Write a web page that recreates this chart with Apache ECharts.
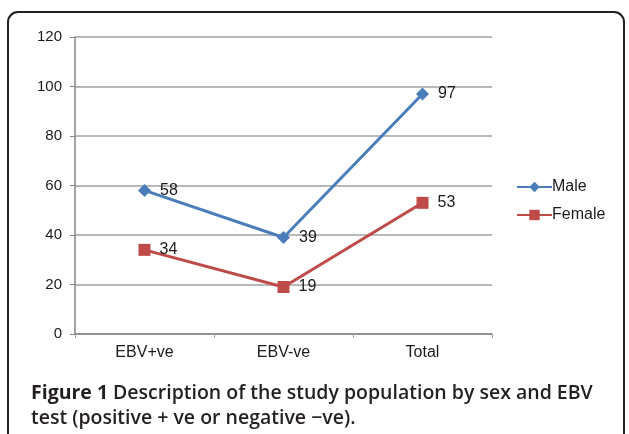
<!DOCTYPE html>
<html>
<head>
<meta charset="utf-8">
<script src="https://cdn.jsdelivr.net/npm/echarts@6/dist/echarts.min.js"></script>
<style>
  html, body { margin: 0; padding: 0; background: #fff; }
  #chart { width: 629px; height: 434px; }
</style>
</head>
<body>
<div id="chart"></div>
<script>
const categories = ['EBV+ve', 'EBV-ve', 'Total']
const male = [58, 39, 97]
const female = [34, 19, 53]
const yTicks = { min: 0, max: 120, interval: 20 }

const chart = echarts.init(document.getElementById('chart'))

const labelStyle = {
  show: true,
  position: 'right',
  distance: 9,
  fontFamily: 'Liberation Sans',
  fontSize: 16,
  color: '#1a1a1a'
}

chart.setOption({
  animation: false,
  title: {
    left: 26,
    top: 376,
    text: '{b|Figure 1} {n|Description of the study population by sex and EBV}\n{n|test (positive + ve or negative \u2212ve).}',
    textStyle: {
      rich: {
        b: { fontFamily: 'Open Sans', fontWeight: 'bold', fontSize: 19.5, color: '#231f20', lineHeight: 25 },
        n: { fontFamily: 'Open Sans', fontWeight: 600, fontSize: 19.5, color: '#231f20', lineHeight: 25 }
      }
    }
  },
  graphic: [{
    type: 'rect',
    shape: { x: 8, y: 12, width: 616, height: 460, r: 10 },
    style: { fill: 'none', stroke: '#231f20', lineWidth: 2 },
    silent: true
  }],
  legend: {
    orient: 'vertical',
    left: 511,
    top: 174,
    itemGap: 12,
    itemWidth: 35,
    itemHeight: 13,
    textStyle: { fontFamily: 'Liberation Sans', fontSize: 16, color: '#1a1a1a', padding: [0, 0, 0, -5] },
    data: ['Male', 'Female']
  },
  grid: { left: 75, right: 137, top: 37, bottom: 100 },
  xAxis: {
    type: 'category',
    data: categories,
    boundaryGap: true,
    axisLine: { lineStyle: { color: '#868686', width: 1.5 } },
    axisTick: { show: true, length: 4, lineStyle: { color: '#a0a0a0' } },
    axisLabel: { fontFamily: 'Liberation Sans', fontSize: 16, color: '#1a1a1a', margin: 11 }
  },
  yAxis: {
    type: 'value',
    min: yTicks.min,
    max: yTicks.max,
    interval: yTicks.interval,
    axisLine: { show: true, lineStyle: { color: '#868686', width: 1.5 } },
    axisTick: { show: true, length: 5, lineStyle: { color: '#868686' } },
    splitLine: { lineStyle: { color: '#a0a0a0', width: 1.5 } },
    axisLabel: { fontFamily: 'Liberation Sans', fontSize: 15, color: '#1a1a1a', margin: 13 }
  },
  series: [
    {
      name: 'Male',
      type: 'line',
      data: male,
      symbol: 'diamond',
      symbolSize: 13,
      lineStyle: { color: '#4a7ebb', width: 3 },
      itemStyle: { color: '#4a7ebb' },
      label: labelStyle
    },
    {
      name: 'Female',
      type: 'line',
      data: female,
      symbol: 'rect',
      symbolSize: 12,
      lineStyle: { color: '#be4b48', width: 3 },
      itemStyle: { color: '#be4b48' },
      label: labelStyle
    }
  ]
})
</script>
</body>
</html>
